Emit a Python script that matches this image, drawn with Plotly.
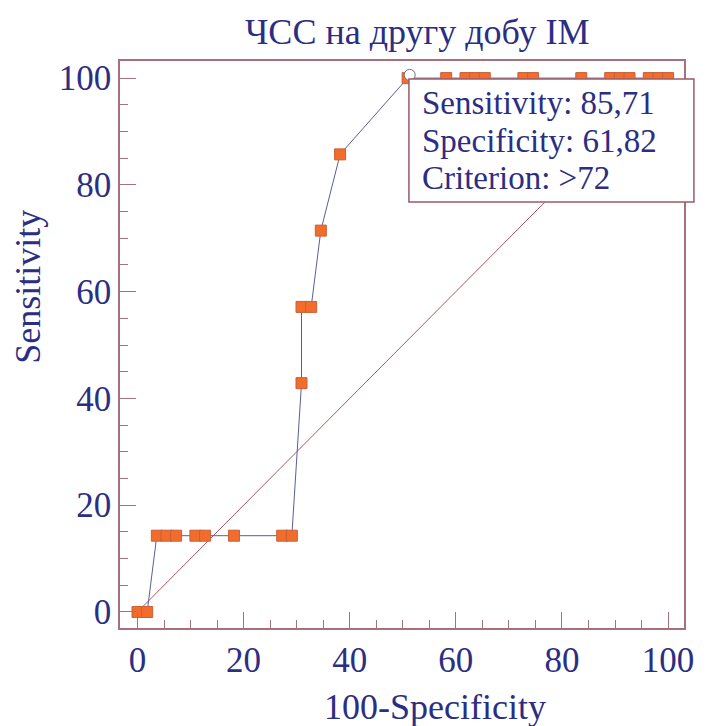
import plotly.graph_objects as go

# ROC points (100-Specificity, Sensitivity)
fpr = [0, 1.82, 3.64, 5.45, 7.27, 10.91, 12.73, 18.18, 27.27, 29.09,
       30.91, 30.91, 32.73, 34.55, 38.18,
       50.91, 58.18, 61.82, 63.64, 65.45, 72.73, 74.55, 83.64, 89.09,
       90.91, 92.73, 96.36, 98.18, 100]
tpr = [0, 0, 14.29, 14.29, 14.29, 14.29, 14.29, 14.29, 14.29, 14.29,
       42.86, 57.14, 57.14, 71.43, 85.71,
       100, 100, 100, 100, 100, 100, 100, 100, 100,
       100, 100, 100, 100, 100]
diag = [0, 100]
tick_vals = [0, 20, 40, 60, 80, 100]
title_text = "ЧСС на другу добу IM"
x_title = "100-Specificity"
y_title = "Sensitivity"
info_lines = ["Sensitivity: 85,71", "Specificity: 61,82", "Criterion: >72"]
marked_point = (51.3, 100.6)

NAVY = "#2B2E83"
FRAME = "#A8707E"
FONT = "Liberation Serif, Times New Roman, serif"

fig = go.Figure()
fig.add_trace(go.Scatter(x=diag, y=diag, mode="lines",
                         line=dict(color="#A65A62", width=1),
                         hoverinfo="skip", showlegend=False))
fig.add_trace(go.Scatter(x=fpr, y=tpr, mode="lines+markers",
                         line=dict(color="#5B5E96", width=1),
                         marker=dict(symbol="square", size=11, color="#F26C2B",
                                     line=dict(color="#C9603A", width=1)),
                         cliponaxis=False, showlegend=False))
fig.add_trace(go.Scatter(x=[marked_point[0]], y=[marked_point[1]], mode="markers",
                         marker=dict(symbol="circle", size=11, color="white",
                                     line=dict(color="#777777", width=1)),
                         cliponaxis=False, showlegend=False))

axis_common = dict(
    showgrid=False, zeroline=False, showline=True, mirror=True,
    linecolor=FRAME, linewidth=1.5,
    ticks="inside", ticklen=16, tickwidth=1.2, tickcolor=FRAME,
    tickvals=tick_vals,
    tickfont=dict(family=FONT, size=35, color=NAVY),
    minor=dict(dtick=5, tick0=0, ticks="inside", ticklen=8, tickwidth=1.2, tickcolor=FRAME),
)
fig.update_xaxes(range=[-3.3, 103], **axis_common)
fig.update_yaxes(range=[-3.0, 103.2], **axis_common)

# info box
fig.add_shape(type="rect", xref="paper", yref="paper",
              x0=0.5123, x1=1.0176, y0=0.7513, y1=0.9683,
              fillcolor="white", line=dict(color="#9A5A6A", width=1.5), layer="above")
ys = [95.3, 88.3, 81.3]
for txt, yy in zip(info_lines, ys):
    fig.add_annotation(x=53.3, y=yy, xref="x", yref="y", text=txt, showarrow=False,
                       xanchor="left", yanchor="middle",
                       font=dict(family=FONT, size=33, color=NAVY))

fig.add_annotation(x=-0.1637, y=0.6014, xref="paper", yref="paper", text=y_title,
                   showarrow=False, textangle=-90, xanchor="center", yanchor="middle",
                   font=dict(family=FONT, size=36, color=NAVY))
fig.add_annotation(x=0.558, y=-0.139, xref="paper", yref="paper", text=x_title,
                   showarrow=False, xanchor="center", yanchor="middle",
                   font=dict(family=FONT, size=36, color=NAVY))

fig.update_layout(
    width=706, height=726,
    margin=dict(l=120, r=18, t=61, b=98),
    paper_bgcolor="white", plot_bgcolor="white",
    title=dict(text=title_text, x=0.591, xanchor="center", y=0.957, yanchor="middle",
               font=dict(family=FONT, size=36, color=NAVY)),
)
fig.write_html("out.html")
